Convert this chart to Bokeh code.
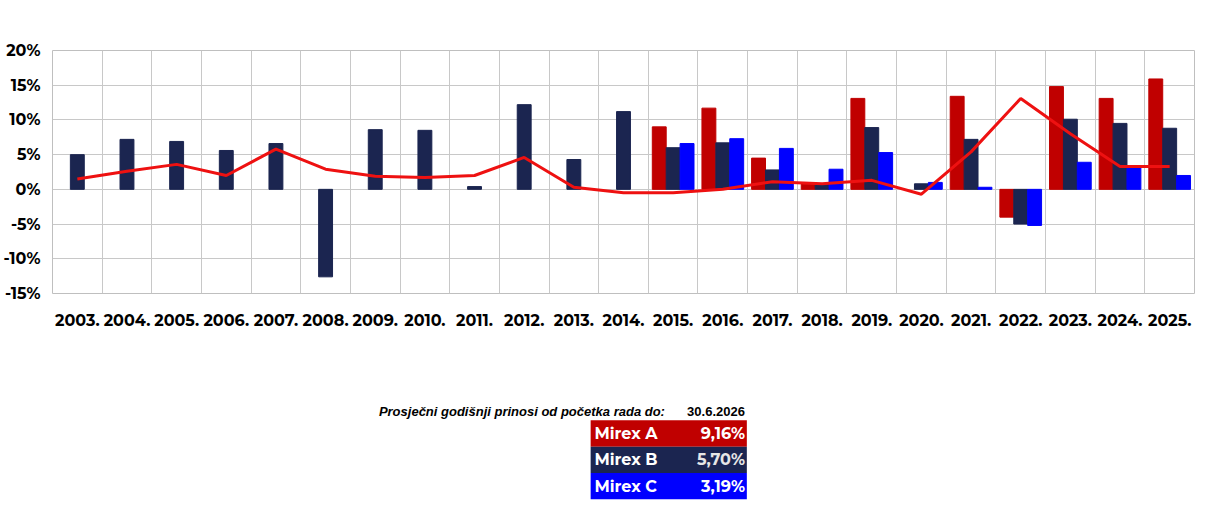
import math
from bokeh.plotting import figure
from bokeh.layouts import column
from bokeh.models import ColumnDataSource, Range1d, FixedTicker, Legend, LegendItem
from bokeh.core.properties import value
from bokeh.embed import file_html
from bokeh.resources import INLINE

nan = float("nan")
years = ["2003.", "2004.", "2005.", "2006.", "2007.", "2008.", "2009.", "2010.", "2011.", "2012.",
         "2013.", "2014.", "2015.", "2016.", "2017.", "2018.", "2019.", "2020.", "2021.", "2022.",
         "2023.", "2024.", "2025."]
mirex_a = [nan]*12 + [9.0, 11.7, 4.5, 0.8, 13.1, nan, 13.4, -4.0, 14.8, 13.1, 15.9]
mirex_b = [5.0, 7.2, 6.9, 5.6, 6.6, -12.6, 8.6, 8.5, 0.4, 12.2, 4.3, 11.2,
           6.0, 6.7, 2.8, 0.7, 8.9, 0.8, 7.2, -5.0, 10.1, 9.5, 8.8]
mirex_c = [nan]*12 + [6.6, 7.3, 5.9, 2.9, 5.3, 1.0, 0.3, -5.2, 3.9, 3.1, 2.0]
inflacija = [1.5, 2.6, 3.6, 2.0, 5.8, 2.9, 1.9, 1.7, 2.0, 4.6, 0.3, -0.5,
             -0.5, 0.0, 1.1, 0.8, 1.3, -0.7, 5.4, 13.1, 8.0, 3.3, 3.3]
y_ticks = [-15, -10, -5, 0, 5, 10, 15, 20]

avg_names = ["Mirex A", "Mirex B", "Mirex C"]
avg_values = ["9,16%", "5,70%", "3,19%"]
avg_title = "Prosječni godišnji prinosi od početka rada do:"
avg_date = "30.6.2026"

CA, CB, CC, CI = "#C00000", "#1B2550", "#0000FF", "#EE1111"
FONT = "Montserrat, Inter, sans-serif"

n = len(years)
idx = list(range(n))
bw = 0.28
src = ColumnDataSource(dict(
    xa=[i - bw for i in idx], xb=idx, xc=[i + bw for i in idx],
    a=mirex_a, b=mirex_b, c=mirex_c, inf=inflacija, x=idx))

p = figure(width=1199, height=360, output_backend="svg", toolbar_location=None,
           x_range=Range1d(-0.5, n - 0.5), y_range=Range1d(-15, 20),
           min_border_left=50, min_border_right=5, min_border_bottom=67, min_border_top=50)
p.outline_line_color = "#BFBFBF"
ra = p.vbar(x="xa", top="a", bottom=0, width=bw, color=CA, source=src)
rb = p.vbar(x="xb", top="b", bottom=0, width=bw, color=CB, source=src)
rc = p.vbar(x="xc", top="c", bottom=0, width=bw, color=CC, source=src)
ri = p.line(x="x", y="inf", line_color=CI, line_width=3, source=src)

p.xaxis.ticker = FixedTicker(ticks=idx)
p.xaxis.major_label_overrides = {i: y for i, y in enumerate(years)}
p.xgrid.ticker = FixedTicker(ticks=[i + 0.5 for i in idx[:-1]])
p.yaxis.ticker = FixedTicker(ticks=y_ticks)
p.yaxis.major_label_overrides = {t: f"{t}%" for t in y_ticks}
for ax in (p.xaxis[0], p.yaxis[0]):
    ax.axis_line_color = None
    ax.major_tick_line_color = None
    ax.minor_tick_line_color = None
    ax.major_label_text_font = FONT
    ax.major_label_text_font_style = "bold"
    ax.major_label_text_font_size = "16px"
    ax.major_label_text_color = "black"
p.xaxis.major_label_standoff = 14
p.yaxis.major_label_standoff = 6
p.xgrid.grid_line_color = "#C8C8C8"
p.ygrid.grid_line_color = "#C8C8C8"

legend = Legend(items=[LegendItem(label="Mirex A", renderers=[ra]),
                       LegendItem(label="Mirex B", renderers=[rb]),
                       LegendItem(label="Mirex C", renderers=[rc]),
                       LegendItem(label="Inflacija", renderers=[ri])],
                orientation="horizontal", location=(300, 250),
                label_text_font=FONT, label_text_font_style="bold",
                label_text_font_size="19px", label_text_color="#111111",
                border_line_color=None, background_fill_alpha=0,
                glyph_width=22, glyph_height=16, spacing=14, label_standoff=4,
                margin=0, padding=4)
p.add_layout(legend, "center")

t = figure(width=1199, height=140, output_backend="svg", toolbar_location=None,
           x_range=Range1d(0, 1199), y_range=Range1d(140, 0), min_border=0)
t.axis.visible = False
t.grid.visible = False
t.outline_line_color = None
row_h = 26.3
row_y = [73 + i * row_h for i in range(3)]
t.rect(x=[647] * 3, y=row_y, width=164, height=row_h,
       fill_color=[CA, CB, CC], line_color=None)
t.text(x=[569] * 3, y=row_y, text=avg_names, text_color="white",
       text_font=value(FONT), text_font_style="bold", text_font_size="16px",
       text_baseline="middle", text_align="left")
t.text(x=[727] * 3, y=row_y, text=avg_values, text_color=["white", "#E6E6E6", "white"],
       text_font=value(FONT), text_font_style="bold", text_font_size="16px",
       text_baseline="middle", text_align="right")
t.text(x=[643], y=[51], text=[avg_title], text_font=value("Liberation Sans"),
       text_font_style="bold italic", text_font_size="13px",
       text_baseline="middle", text_align="right", text_color="black")
t.text(x=[727], y=[51], text=[avg_date], text_font=value("Liberation Sans"),
       text_font_style="bold", text_font_size="13px",
       text_baseline="middle", text_align="right", text_color="black")

layout = column(p, t, spacing=0, width=1199, height=500)
open("out.html", "w").write(file_html(layout, INLINE))
